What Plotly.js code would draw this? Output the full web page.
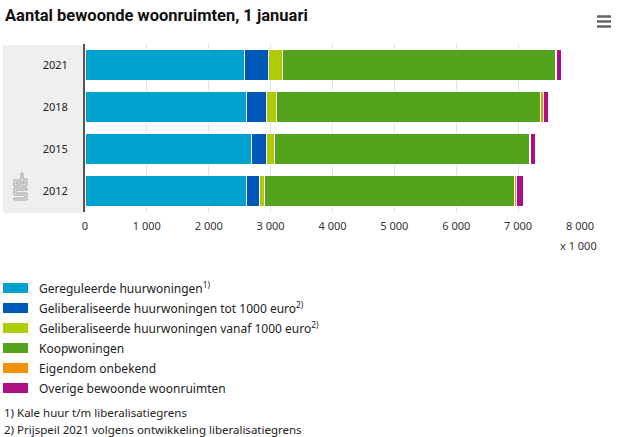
<!DOCTYPE html>
<html><head><meta charset="utf-8">
<script src="https://cdn.plot.ly/plotly-3.0.1.min.js"></script>
<style>html,body{margin:0;padding:0;background:#fff}#chart{width:619px;height:437px}</style>
</head><body><div id="chart"></div>
<script>
const years = ["2012", "2015", "2018", "2021"];
const seriesNames = [
  "Gereguleerde huurwoningen<sup>1)</sup>",
  "Geliberaliseerde huurwoningen tot 1000 euro<sup>2)</sup>",
  "Geliberaliseerde huurwoningen vanaf 1000 euro<sup>2)</sup>",
  "Koopwoningen",
  "Eigendom onbekend",
  "Overige bewoonde woonruimten"
];
const gereguleerd = [2618, 2683, 2602, 2570];
const libTot1000 = [210, 258, 339, 388];
const libVanaf1000 = [81, 114, 146, 226];
const koop = [4036, 4126, 4267, 4428];
const onbekend = [32, 23, 48, 5];
const overig = [113, 80, 81, 81];
const colors = ["#00a1cd", "#0058b8", "#afcb05", "#53a31d", "#f39200", "#af0e80"];
const xTickVals = [0, 1000, 2000, 3000, 4000, 5000, 6000, 7000, 8000];
const xTickText = ["0", "1 000", "2 000", "3 000", "4 000", "5 000", "6 000", "7 000", "8 000"];
const footnotes = ["1) Kale huur t/m liberalisatiegrens", "2) Prijspeil 2021 volgens ontwikkeling liberalisatiegrens"];

const W = 619, H = 437, ML = 85, MR = 39, MT = 44, MB = 225;
const PW = W - ML - MR, PH = H - MT - MB;
const px = v => (v - ML) / PW;
const py = v => (H - MB - v) / PH;

const values = [gereguleerd, libTot1000, libVanaf1000, koop, onbekend, overig];
const traces = values.map((vals, i) => ({
  type: "bar", orientation: "h", y: years, x: vals, name: seriesNames[i],
  marker: {color: colors[i], line: {color: "#ffffff", width: 1}},
  showlegend: false, hoverinfo: "x+name"
}));

const shapes = [
  {type: "rect", xref: "paper", yref: "paper", x0: px(3), x1: px(84), y0: py(45), y1: py(213),
   fillcolor: "#efefef", line: {width: 0}, layer: "below"}
];
const annotations = [];
const rowY = [288, 308, 328, 348, 368, 388];
const legFont = {size: 12, color: "#222", family: "Noto Sans"};
seriesNames.forEach((n, i) => {
  shapes.push({type: "rect", xref: "paper", yref: "paper", x0: px(3), x1: px(28),
    y0: py(rowY[i] + 5), y1: py(rowY[i] - 5), fillcolor: colors[i], line: {width: 0}});
  annotations.push({xref: "paper", yref: "paper", x: px(37), y: py(rowY[i]), xanchor: "left", yanchor: "middle",
    text: n, showarrow: false, font: legFont});
});
[413, 429].forEach((yy, i) => annotations.push({xref: "paper", yref: "paper", x: px(2), y: py(yy),
  xanchor: "left", yanchor: "middle", text: footnotes[i], showarrow: false,
  font: {size: 11.5, color: "#222", family: "Noto Sans"}}));
annotations.push({xref: "paper", yref: "paper", x: px(599), y: py(245), xanchor: "right", yanchor: "middle",
  text: "x 1 000", showarrow: false, font: {size: 11, color: "#333", family: "Noto Sans"}});
// hamburger menu
[16.5, 21.5, 26.5].forEach(yy => shapes.push({type: "line", xref: "paper", yref: "paper",
  x0: px(597), x1: px(611), y0: py(yy), y1: py(yy), line: {color: "#666", width: 2.5}}));
// CBS logo (approximate)
const logo = [
  [[20,180],[14,180],[14,186],[20,186]],
  [[20,182],[16,182],[16,184],[20,184]],
  [[21,173],[21,186],[27,186],[27,179],[23,179],[23,173],[21,173]],
  [[23,181],[25,181],[25,184],[23,184],[23,181]],
  [[27,188],[14,188],[14,195],[25,195],[25,198],[14,198],[14,200],[27,200],[27,193],[16,193],[16,190],[27,190],[27,188]]
];
logo.forEach(pts => {
  const d = pts.map((p, k) => (k ? "L" : "M") + px(p[0]) + "," + py(p[1])).join(" ");
  shapes.push({type: "path", xref: "paper", yref: "paper", path: d, line: {color: "#a0a0a0", width: 1}});
});

const layout = {
  width: W, height: H, margin: {l: ML, r: MR, t: MT, b: MB},
  barmode: "stack", bargap: 0.24,
  paper_bgcolor: "#ffffff", plot_bgcolor: "rgba(0,0,0,0)",
  font: {family: "Noto Sans", size: 11, color: "#333"},
  title: {text: "<b>Aantal bewoonde woonruimten, 1 januari</b>", x: 5 / W, xref: "container", xanchor: "left",
    y: 1 - 15 / H, yref: "container", yanchor: "middle",
    font: {family: "Roboto", size: 16.5, color: "#111"}},
  xaxis: {range: [0, 8000], tickvals: xTickVals, ticktext: xTickText, showgrid: true, gridcolor: "#e0e0e0",
    gridwidth: 1, zeroline: false, showline: false, ticks: "", ticklabelstandoff: 6,
    tickfont: {size: 11, color: "#333"}, fixedrange: true},
  yaxis: {type: "category", categoryorder: "array", categoryarray: years, showline: true, linecolor: "#555",
    linewidth: 2, ticks: "", ticklabelstandoff: 13, showgrid: false, zeroline: false,
    tickfont: {size: 11, color: "#222"}, fixedrange: true},
  shapes: shapes, annotations: annotations, showlegend: false
};
Plotly.newPlot("chart", traces, layout, {displayModeBar: false, staticPlot: true});
</script></body></html>
